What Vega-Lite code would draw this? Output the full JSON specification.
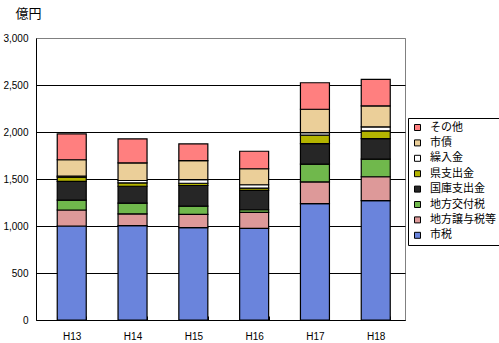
{
  "$schema": "https://vega.github.io/schema/vega-lite/v6.json",
  "autosize": "none",
  "width": 369,
  "height": 282,
  "padding": {"left": 36, "top": 38, "right": 94, "bottom": 23},
  "background": "white",
  "config": {"view": {"stroke": "#808080", "strokeWidth": 1}, "font": "Liberation Sans"},
  "data": {"values": [
    {"year": "H13", "item": "市税", "value": 1000},
    {"year": "H13", "item": "地方譲与税等", "value": 170},
    {"year": "H13", "item": "地方交付税", "value": 105},
    {"year": "H13", "item": "国庫支出金", "value": 200},
    {"year": "H13", "item": "県支出金", "value": 45},
    {"year": "H13", "item": "繰入金", "value": 10},
    {"year": "H13", "item": "市債", "value": 175},
    {"year": "H13", "item": "その他", "value": 275},
    {"year": "H14", "item": "市税", "value": 1005},
    {"year": "H14", "item": "地方譲与税等", "value": 125},
    {"year": "H14", "item": "地方交付税", "value": 113},
    {"year": "H14", "item": "国庫支出金", "value": 180},
    {"year": "H14", "item": "県支出金", "value": 36},
    {"year": "H14", "item": "繰入金", "value": 25},
    {"year": "H14", "item": "市債", "value": 187},
    {"year": "H14", "item": "その他", "value": 255},
    {"year": "H15", "item": "市税", "value": 983},
    {"year": "H15", "item": "地方譲与税等", "value": 140},
    {"year": "H15", "item": "地方交付税", "value": 88},
    {"year": "H15", "item": "国庫支出金", "value": 220},
    {"year": "H15", "item": "県支出金", "value": 24},
    {"year": "H15", "item": "繰入金", "value": 39},
    {"year": "H15", "item": "市債", "value": 202},
    {"year": "H15", "item": "その他", "value": 177},
    {"year": "H16", "item": "市税", "value": 975},
    {"year": "H16", "item": "地方譲与税等", "value": 170},
    {"year": "H16", "item": "地方交付税", "value": 28},
    {"year": "H16", "item": "国庫支出金", "value": 205},
    {"year": "H16", "item": "県支出金", "value": 25},
    {"year": "H16", "item": "繰入金", "value": 36},
    {"year": "H16", "item": "市債", "value": 170},
    {"year": "H16", "item": "その他", "value": 186},
    {"year": "H17", "item": "市税", "value": 1237},
    {"year": "H17", "item": "地方譲与税等", "value": 232},
    {"year": "H17", "item": "地方交付税", "value": 190},
    {"year": "H17", "item": "国庫支出金", "value": 218},
    {"year": "H17", "item": "県支出金", "value": 89},
    {"year": "H17", "item": "繰入金", "value": 28},
    {"year": "H17", "item": "市債", "value": 248},
    {"year": "H17", "item": "その他", "value": 282},
    {"year": "H18", "item": "市税", "value": 1269},
    {"year": "H18", "item": "地方譲与税等", "value": 255},
    {"year": "H18", "item": "地方交付税", "value": 187},
    {"year": "H18", "item": "国庫支出金", "value": 219},
    {"year": "H18", "item": "県支出金", "value": 82},
    {"year": "H18", "item": "繰入金", "value": 42},
    {"year": "H18", "item": "市債", "value": 223},
    {"year": "H18", "item": "その他", "value": 282}
  ]},
  "transform": [
    {"calculate": "indexof(['市税','地方譲与税等','地方交付税','国庫支出金','県支出金','繰入金','市債','その他'], datum.item)", "as": "k"}
  ],
  "mark": {"type": "bar", "stroke": "black", "strokeWidth": 1.2},
  "encoding": {
    "x": {
      "field": "year", "type": "nominal",
      "scale": {"paddingInner": 0.523, "paddingOuter": 0.296, "align": 0.59},
      "axis": {"title": null, "labelAngle": 0, "labelFontSize": 10, "labelColor": "black", "domainColor": "black", "tickColor": "black", "tickSize": -4, "tickBand": "extent", "labelPadding": 15}
    },
    "y": {
      "field": "value", "type": "quantitative", "stack": "zero",
      "scale": {"domain": [0, 3000], "nice": false},
      "axis": {
        "values": [0, 500, 1000, 1500, 2000, 2500, 3000], "format": ",.0f",
        "ticks": false, "labelPadding": 8, "labelFontSize": 10, "labelColor": "black",
        "domainColor": "black", "grid": true,
        "gridColor": {"condition": {"test": "datum.value === 3000", "value": "#808080"}, "value": "black"},
        "title": "億円", "titleAngle": 0, "titleX": -21, "titleY": -25, "titleAlign": "left", "titleBaseline": "middle",
        "titleFontSize": 13, "titleFont": "Noto Sans CJK JP", "titleFontWeight": "normal", "titleColor": "black"
      }
    },
    "color": {
      "field": "item", "type": "nominal",
      "scale": {
        "domain": ["その他", "市債", "繰入金", "県支出金", "国庫支出金", "地方交付税", "地方譲与税等", "市税"],
        "range": ["#ff7f7f", "#ebcf99", "#ffffff", "#b4b400", "#262626", "#70b84c", "#dd9999", "#6a84dc"]
      },
      "legend": {
        "orient": "none", "legendX": 372, "legendY": 80, "title": null,
        "strokeColor": "black", "fillColor": "white", "padding": 4,
        "symbolType": "square", "symbolSize": 36, "symbolStrokeColor": "black", "symbolStrokeWidth": 1,
        "labelFontSize": 11, "labelFont": "Noto Sans CJK JP", "labelColor": "black", "rowPadding": 3.4, "labelOffset": 7
      }
    },
    "order": {"field": "k", "type": "quantitative"}
  }
}
